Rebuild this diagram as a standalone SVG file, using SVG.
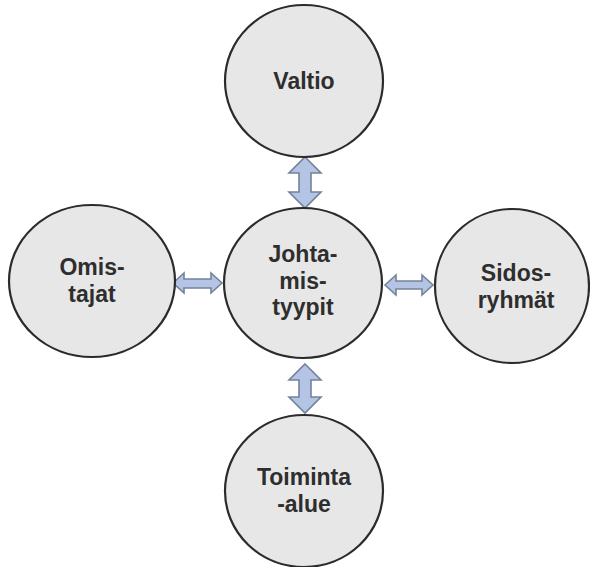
<svg xmlns="http://www.w3.org/2000/svg" width="590" height="567" viewBox="0 0 590 567">
<style>
.node ellipse{fill:#e7e7e7;stroke:#2b2b2b;stroke-width:2.2}
.node text{font-family:"Liberation Sans",Arial,sans-serif;font-weight:bold;font-size:23px;fill:#2e2e2e;text-anchor:middle}
.conn path{fill:#b3c4e4;stroke:#74829a;stroke-width:1.6;stroke-linejoin:miter}
</style>
<rect width="590" height="567" fill="#ffffff"/>
<g id="connectors" class="conn">
<path d="M305,157 L321,173 L311,173 L311,192 L321,192 L305,208 L289,192 L299,192 L299,173 L289,173 Z"/>
<path d="M305,364 L321,380 L311,380 L311,397 L321,397 L305,413 L289,397 L299,397 L299,380 L289,380 Z"/>
<path d="M173,283 L184,273 L184,279 L211,279 L211,273 L222,283 L211,293 L211,288 L184,288 L184,293 Z"/>
<path d="M385,285 L396,275 L396,281 L422,281 L422,275 L433,285 L422,295 L422,289 L396,289 L396,295 Z"/>
</g>
<g id="valtio" class="node">
<ellipse cx="304" cy="81" rx="79" ry="76"/>
<text x="304" y="89">Valtio</text>
</g>
<g id="johtamistyypit" class="node">
<ellipse cx="303" cy="283" rx="79" ry="75"/>
<text x="303" y="262">Johta-</text>
<text x="303" y="289">mis-</text>
<text x="303" y="315">tyypit</text>
</g>
<g id="omistajat" class="node">
<ellipse cx="92" cy="281" rx="83" ry="76"/>
<text x="92" y="275">Omis-</text>
<text x="92" y="302">tajat</text>
</g>
<g id="sidosryhmat" class="node">
<ellipse cx="512" cy="286" rx="77" ry="77"/>
<text x="516" y="281">Sidos-</text>
<text x="516" y="308">ryhmät</text>
</g>
<g id="toiminta-alue" class="node">
<ellipse cx="304" cy="491" rx="79" ry="76"/>
<text x="304" y="485">Toiminta</text>
<text x="304" y="512">-alue</text>
</g>
</svg>
